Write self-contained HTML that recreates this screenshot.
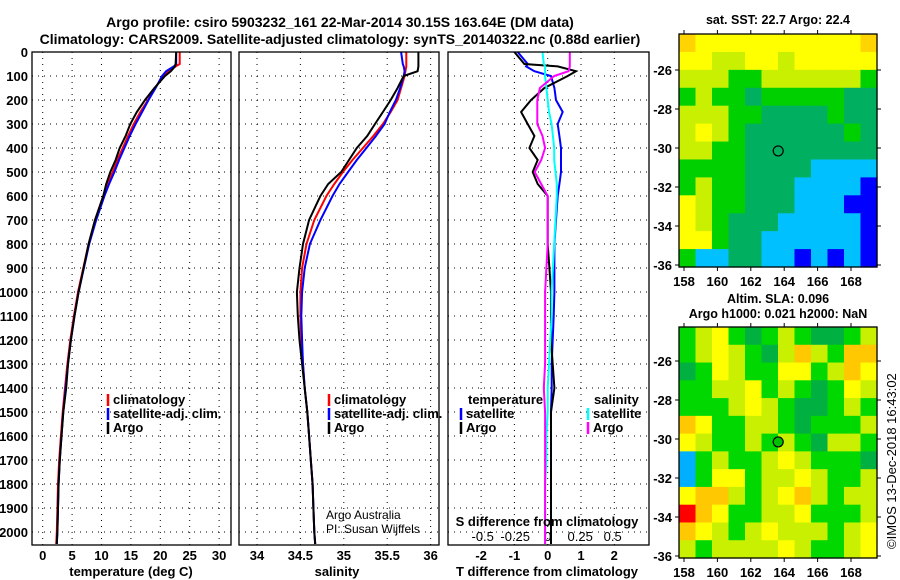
<!DOCTYPE html>
<html><head><meta charset="utf-8"><style>
html,body{margin:0;padding:0;background:#fff;}
svg{display:block;font-family:"Liberation Sans",sans-serif;font-weight:bold;}
</style></head><body>
<svg id="c" width="900" height="580" viewBox="0 0 900 580" xmlns="http://www.w3.org/2000/svg">
<text x="340" y="27" text-anchor="middle" font-size="14">Argo profile: csiro 5903232_161 22-Mar-2014 30.15S 163.64E (DM data)</text>
<text x="340" y="44" text-anchor="middle" font-size="14">Climatology: CARS2009. Satellite-adjusted climatology: synTS_20140322.nc (0.88d earlier)</text>
</svg>
<script>
// ---- data ----
const depthTicks=[0,100,200,300,400,500,600,700,800,900,1000,1100,1200,1300,1400,1500,1600,1700,1800,1900,2000];
const tTicks=[0,5,10,15,20,25,30];
const sTicks=[34,34.5,35,35.5,36];
const sTickLabels=["34","34.5","35","35.5","36"];
const dTTicks=[-2,-1,0,1,2];
const dSTicks=[-0.5,-0.25,0,0.25,0.5];
const dSTickLabels=["-0.5","-0.25","0","0.25","0.5"];
const depths=[0,50,60,80,100,150,200,250,300,350,400,450,500,550,600,700,800,900,1000,1100,1200,1300,1400,1500,1600,1700,1800,1900,2000,2050];
const tempClim=[23.3,23.3,22.6,21.4,20.5,19.1,17.9,16.6,15.5,14.5,13.6,12.7,11.9,11.0,10.3,8.9,7.8,6.9,6.0,5.3,4.7,4.2,3.8,3.4,3.1,2.8,2.6,2.5,2.4,2.3];
const tempSat=[22.7,22.7,22.3,21.0,20.3,19.2,18.0,16.9,15.8,14.8,13.9,13.0,12.2,11.3,10.5,9.1,7.9,7.0,6.1,5.4,4.8,4.3,3.9,3.5,3.2,2.9,2.7,2.6,2.5,2.4];
const tempArgo=[22.7,22.6,22.5,21.8,20.8,19.0,17.4,16.0,14.9,14.1,13.1,12.4,11.5,10.8,10.3,8.9,7.8,6.95,6.1,5.4,4.8,4.3,4.0,3.5,3.2,2.9,2.7,2.6,2.5,2.4];
const salClim=[35.72,35.72,35.72,35.71,35.70,35.66,35.62,35.54,35.45,35.34,35.22,35.10,34.99,34.89,34.80,34.66,34.57,34.52,34.50,34.50,34.51,34.53,34.55,34.58,34.60,34.62,34.64,34.65,34.66,34.67];
const salSat=[35.66,35.68,35.69,35.70,35.69,35.65,35.60,35.53,35.47,35.37,35.26,35.15,35.05,34.95,34.87,34.73,34.61,34.55,34.52,34.51,34.52,34.53,34.55,34.58,34.60,34.62,34.64,34.65,34.66,34.67];
const salArgo=[35.86,35.86,35.86,35.85,35.69,35.62,35.54,35.45,35.36,35.27,35.15,35.06,34.97,34.82,34.73,34.60,34.53,34.49,34.46,34.47,34.49,34.52,34.55,34.58,34.60,34.62,34.64,34.65,34.66,34.67];
const dTSat=[-0.9,-0.6,-0.65,-0.4,0.1,0.2,0.25,0.45,0.3,0.35,0.4,0.4,0.4,0.35,0.3,0.25,0.2,0.2,0.2,0.18,0.15,0.12,0.12,0.1,0.1,0.1,0.1,0.1,0.1,0.1];
const dTArgo=[-1.0,-0.7,0.3,0.85,0.6,-0.1,-0.5,-0.8,-0.6,-0.4,-0.55,-0.3,-0.45,-0.3,0.0,0.0,0.0,0.05,0.1,0.1,0.1,0.15,0.2,0.1,0.1,0.1,0.1,0.1,0.1,0.1];
const dSSat=[-0.04,-0.03,-0.02,-0.02,-0.02,-0.01,0.0,0.01,0.03,0.04,0.05,0.05,0.06,0.07,0.07,0.06,0.05,0.04,0.03,0.03,0.02,0.01,0.0,0.0,-0.01,-0.01,-0.02,-0.02,-0.02,-0.02];
const dSArgo=[0.17,0.17,0.17,0.16,0.05,-0.06,-0.08,-0.08,-0.08,-0.04,-0.02,-0.05,-0.1,-0.05,0.0,0.0,0.0,-0.01,-0.02,-0.02,-0.02,-0.02,-0.03,-0.02,-0.02,-0.02,-0.02,-0.02,-0.02,-0.02];
const lonTicks=[158,160,162,164,166,168];
const latTicks=[-26,-28,-30,-32,-34,-36];
const sstGrid=[
[0,1,1,1,1,1,1,1,1,1,1,0],[1,1,2,2,1,1,2,1,1,1,1,1],[2,2,2,3,3,2,2,2,2,2,2,3],
[3,2,3,3,4,3,3,3,3,3,4,4],[2,2,2,3,3,4,4,4,4,3,4,4],[2,1,2,3,4,4,4,4,4,4,3,4],
[2,2,3,3,4,4,4,4,4,4,4,4],[3,3,3,3,4,4,4,4,5,5,5,5],[3,2,3,3,4,4,4,5,5,5,5,6],
[1,2,3,3,4,4,4,5,5,5,6,6],[1,2,3,4,4,4,5,5,5,5,5,6],[1,1,3,4,4,5,5,5,5,5,5,6],
[3,5,5,4,4,5,5,6,5,6,5,6]];
const slaGrid=[
[4,3,2,4,5,4,3,4,5,5,4,3],[4,3,2,3,4,5,3,1,3,4,1,1],[5,4,2,3,4,4,2,2,4,3,1,2],
[4,4,3,3,2,4,3,4,5,4,2,3],[4,4,4,3,2,3,4,5,5,4,3,4],[1,2,4,4,3,3,4,5,4,4,4,3],
[2,3,4,4,3,4,3,4,5,3,3,4],[6,4,3,4,4,3,2,3,4,4,4,5],[6,4,2,2,4,3,3,2,3,4,4,3],
[2,1,1,3,4,3,2,1,3,4,3,3],[0,1,2,4,4,3,3,2,4,4,4,3],[1,2,3,4,3,2,3,3,3,4,3,2],
[3,4,3,3,3,3,2,3,4,4,3,2]];
const sstColors=["#ffd400","#ffff00","#c8f000","#00d000","#00b060","#00c0ff","#0000ff"];
const slaColors=["#ff0000","#ffc800","#ffff00","#c8f000","#00d800","#00b040","#00b0ff"];
const argoLon=163.64, argoLat=-30.15;

// ---- helpers ----
const S=document.getElementById('c');const NS='http://www.w3.org/2000/svg';
function mk(t,a,p){const e=document.createElementNS(NS,t);for(const k in a)e.setAttribute(k,a[k]);(p||S).appendChild(e);return e;}
const Y0=52,PX100=24;
const yD=d=>Y0+d*PX100/100;
const PB=545;
function panel(x0,x1,name){
  const r=mk('rect',{x:x0,y:Y0,width:x1-x0,height:PB-Y0,fill:'none',stroke:'#000','stroke-width':1.3});
  
}
function hgrid(x0,x1){depthTicks.forEach(d=>{const l=mk('line',{x1:x0,x2:x1,y1:yD(d),y2:yD(d),stroke:'#000','stroke-dasharray':'1,5','stroke-width':1});});}
function vgrid(x){const l=mk('line',{x1:x,x2:x,y1:Y0,y2:PB,stroke:'#000','stroke-dasharray':'1,5','stroke-width':1});}
function txt(x,y,s,o){const t=mk('text',Object.assign({x:x,y:y,'font-size':13},o||{}));t.textContent=s;return t;}
function line(xf,vals,col,name,w){
  let d='';vals.forEach((v,i)=>{d+=(i?'L':'M')+xf(v).toFixed(1)+','+yD(depths[i]).toFixed(1);});
  const p=mk('path',{d:d,fill:'none',stroke:col,'stroke-width':w||2});
  
}
function legend(x,y,items){items.forEach((it,i)=>{
  const l=mk('line',{x1:x,x2:x,y1:y+i*14-10,y2:y+i*14+2,stroke:it[1],'stroke-width':2.5});
  
  const t=txt(x+5,y+i*14,it[0]);});}
const TICKY=560, TITLEY=576;

// depth labels
depthTicks.forEach(d=>{const t=txt(28,yD(d)+5,String(d),{'text-anchor':'end'});});

// ---- temperature panel ----
const xT=v=>42.7+v*5.88;
hgrid(32,231);tTicks.forEach(v=>vgrid(xT(v)));
tTicks.forEach(v=>{const t=txt(xT(v),TICKY,String(v),{'text-anchor':'middle'});});
line(xT,tempClim,'#f00','temp-climatology-line');line(xT,tempSat,'#00f','temp-satellite-line');line(xT,tempArgo,'#000','temp-argo-line');
panel(32,231,'temperature-panel');
let t=txt(131,TITLEY,'temperature (deg C)',{'text-anchor':'middle'});

legend(108,404,[['climatology','#f00'],['satellite-adj. clim.','#00f'],['Argo','#000']]);

// ---- salinity panel ----
const xS=v=>257+(v-34)*86.8;
hgrid(239,439);sTicks.forEach(v=>vgrid(xS(v)));
sTicks.forEach((v,i)=>{const t=txt(xS(v),TICKY,sTickLabels[i],{'text-anchor':'middle'});});
line(xS,salClim,'#f00','sal-climatology-line');line(xS,salSat,'#00f','sal-satellite-line');line(xS,salArgo,'#000','sal-argo-line');
panel(239,439,'salinity-panel');
t=txt(337,TITLEY,'salinity',{'text-anchor':'middle'});
legend(329,404,[['climatology','#f00'],['satellite-adj. clim.','#00f'],['Argo','#000']]);
t=txt(326,519,'Argo Australia',{'font-weight':'normal','font-size':12});
t=txt(326,533,'PI: Susan Wijffels',{'font-weight':'normal','font-size':12});

// ---- difference panel ----
const xdT=v=>547.7+v*33.3, xdS=v=>547.7+v*130;
hgrid(448,649);dTTicks.forEach(v=>vgrid(xdT(v)));
dTTicks.forEach(v=>{const t=txt(xdT(v),TICKY,String(v),{'text-anchor':'middle'});});
dSTicks.forEach((v,i)=>{const t=txt(xdS(v),541,dSTickLabels[i],{'text-anchor':'middle','font-weight':'normal'});});
line(xdT,dTSat,'#00f','dT-satellite-line');line(xdT,dTArgo,'#000','dT-argo-line');
line(xdS,dSSat,'#0ff','dS-satellite-line');line(xdS,dSArgo,'#f0f','dS-argo-line');
panel(448,649,'difference-panel');
t=txt(547,TITLEY,'T difference from climatology',{'text-anchor':'middle'});
t=txt(547,526,'S difference from climatology',{'text-anchor':'middle'});
t=txt(468,404,'temperature');
t=txt(594,404,'salinity');
legend(461,418,[['satellite','#00f'],['Argo','#000']]);
legend(588,418,[['satellite','#0ff'],['Argo','#f0f']]);

// ---- maps ----
function map(x0,x1,y0,y1,lat26y,lat36y,grid,cols,title,titleY,name,fill){
  const xL=v=>684+(v-158)*16.7, yL=v=>lat26y+(-26-v)*(lat36y-lat26y)/10;
  const g=mk('g',{});
  const nr=grid.length,nc=grid[0].length,cw=(x1-x0)/nc,ch=(y1-y0)/nr;
  grid.forEach((row,r)=>row.forEach((v,c)=>{const e=mk('rect',{x:(x0+c*cw).toFixed(2),y:(y0+r*ch).toFixed(2),width:(cw+0.6).toFixed(2),height:(ch+0.6).toFixed(2),fill:cols[v]},g);
    }));
  const b=mk('rect',{x:x0,y:y0,width:x1-x0,height:y1-y0,fill:'none',stroke:'#000','stroke-width':1.3});
  
  lonTicks.forEach(v=>{mk('line',{x1:xL(v),x2:xL(v),y1:y1,y2:y1+4,stroke:'#000'});mk('line',{x1:xL(v),x2:xL(v),y1:y0,y2:y0-4,stroke:'#000'});
    const t=txt(xL(v),y1+19,String(v),{'text-anchor':'middle'});});
  latTicks.forEach(v=>{mk('line',{x1:x0-4,x2:x0,y1:yL(v),y2:yL(v),stroke:'#000'});mk('line',{x1:x1,x2:x1+4,y1:yL(v),y2:yL(v),stroke:'#000'});
    const t=txt(x0-7,yL(v)+5,String(v),{'text-anchor':'end'});});
  const c=mk('circle',{cx:xL(argoLon),cy:yL(argoLat),r:5,fill:fill,stroke:'#000','stroke-width':1.2});
  
  title.forEach((s,i)=>{const t=txt(778,titleY[i],s,{'text-anchor':'middle','font-size':12.5});});
}
map(679,877,34,267,70,265,sstGrid,sstColors,['sat. SST: 22.7 Argo: 22.4'],[24],'sst-map','none');
map(679,877,327,558,361,556,slaGrid,slaColors,['Altim. SLA: 0.096','Argo h1000: 0.021 h2000: NaN'],[303,318],'sla-map','#00c000');
t=txt(0,0,'©IMOS 13-Dec-2018 16:43:02',{'font-weight':'normal','font-size':13,transform:'translate(896,549) rotate(-90)'});

</script>
</body></html>
